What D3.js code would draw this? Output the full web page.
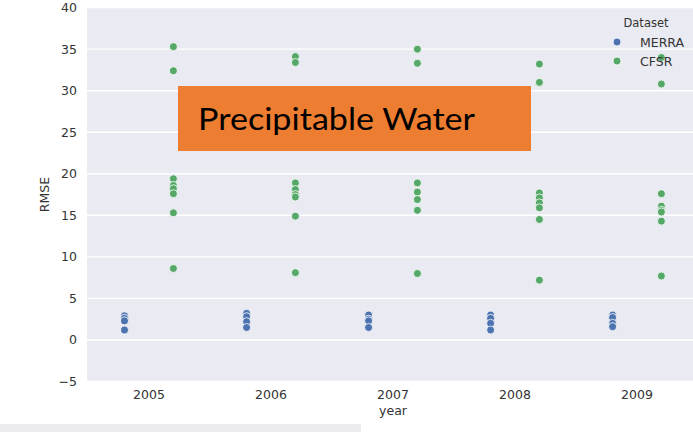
<!DOCTYPE html>
<html>
<head>
<meta charset="utf-8">
<script src="https://cdn.jsdelivr.net/npm/d3@7"></script>
<style>
  html, body { margin: 0; padding: 0; background: #ffffff; }
  svg { display: block; }
</style>
</head>
<body>
<script>
// ---- data ----
const years = ["2005", "2006", "2007", "2008", "2009"];
const seriesNames = ["MERRA", "CFSR"];
const merraValues = [
  [2.9, 2.6, 2.3, 1.2],
  [3.2, 2.8, 2.2, 1.5],
  [3.0, 2.5, 2.3, 1.5],
  [3.0, 2.6, 2.0, 1.2],
  [3.0, 2.7, 2.0, 1.6]
];
const cfsrValues = [
  [35.3, 32.4, 19.4, 18.6, 18.2, 17.6, 15.3, 8.6],
  [34.1, 33.4, 18.9, 18.1, 17.5, 17.2, 14.9, 8.1],
  [35.0, 33.3, 18.9, 17.8, 16.9, 15.6, 8.0],
  [33.2, 31.0, 17.7, 17.1, 16.5, 15.9, 14.5, 7.2],
  [34.0, 30.8, 17.6, 16.1, 15.6, 15.4, 14.3, 7.7]
];
const yTicks = [-5, 0, 5, 10, 15, 20, 25, 30, 35, 40];
const titleText = "Precipitable Water";

// ---- layout ----
const W = 693, H = 432;
const plot = { left: 88, right: 698, top: 7.6, bottom: 381.5 };
const colors = { MERRA: "#4c72b0", CFSR: "#55a868" };

const svg = d3.select("body").append("svg").attr("width", W).attr("height", H);

const x = d3.scaleBand().domain(years).range([plot.left, plot.right]).padding(0);
const y = d3.scaleLinear().domain([-5, 40]).range([plot.bottom, plot.top]);
const dodge = d3.scaleOrdinal().domain(seriesNames).range([-0.2, 0.2]);

// background
svg.append("rect")
  .attr("x", plot.left - 1).attr("y", plot.top)
  .attr("width", plot.right - plot.left + 1).attr("height", plot.bottom - plot.top)
  .attr("fill", "#eaeaf2");

// grid
svg.append("g").selectAll("line").data(yTicks).join("line")
  .attr("x1", plot.left - 1).attr("x2", plot.right)
  .attr("y1", d => y(d)).attr("y2", d => y(d))
  .attr("stroke", "#ffffff").attr("stroke-width", 1.4);

// axes
const font = "'DejaVu Sans', sans-serif";
const yAxis = svg.append("g")
  .attr("transform", `translate(${plot.left - 1},0)`)
  .call(d3.axisLeft(y).tickValues(yTicks).tickSize(0).tickPadding(10)
    .tickFormat(d => d < 0 ? "\u2212" + Math.abs(d) : d));
yAxis.select(".domain").remove();
yAxis.selectAll("text").attr("font-family", font).attr("font-size", 12.5).attr("fill", "#333");

const xAxis = svg.append("g")
  .attr("transform", `translate(0,${plot.bottom})`)
  .call(d3.axisBottom(x).tickSize(0).tickPadding(9));
xAxis.select(".domain").remove();
xAxis.selectAll("text").attr("font-family", font).attr("font-size", 12.5).attr("fill", "#333");

// axis labels
svg.append("text")
  .attr("transform", `translate(49,${(plot.top + plot.bottom) / 2}) rotate(-90)`)
  .attr("text-anchor", "middle").attr("font-family", font).attr("font-size", 12.5)
  .attr("fill", "#333").text("RMSE");
svg.append("text")
  .attr("x", (plot.left + plot.right) / 2).attr("y", 415)
  .attr("text-anchor", "middle").attr("font-family", font).attr("font-size", 12.5)
  .attr("fill", "#333").text("year");

// points
const pts = [];
years.forEach((yr, i) => {
  merraValues[i].forEach(v => pts.push({ year: yr, series: "MERRA", value: v }));
});
years.forEach((yr, i) => {
  cfsrValues[i].forEach(v => pts.push({ year: yr, series: "CFSR", value: v }));
});
svg.append("g").selectAll("circle").data(pts).join("circle")
  .attr("cx", d => x(d.year) + x.bandwidth() / 2 + dodge(d.series) * x.bandwidth())
  .attr("cy", d => y(d.value))
  .attr("r", 4)
  .attr("fill", d => colors[d.series])
  .attr("stroke", "#ffffff").attr("stroke-width", 0.8);

// legend
const lg = svg.append("g");
lg.append("text").attr("x", 646).attr("y", 27).attr("text-anchor", "middle")
  .attr("font-family", font).attr("font-size", 11.5).attr("fill", "#333").text("Dataset");
seriesNames.forEach((s, i) => {
  const cy = 42 + i * 19;
  lg.append("circle").attr("cx", 617).attr("cy", cy).attr("r", 4)
    .attr("fill", colors[s]).attr("stroke", "#ffffff").attr("stroke-width", 0.8);
  lg.append("text").attr("x", 640).attr("y", cy + 4.5)
    .attr("font-family", font).attr("font-size", 12.5).attr("fill", "#333").text(s);
});

// title box overlay
svg.append("rect").attr("x", 178).attr("y", 86).attr("width", 353).attr("height", 65)
  .attr("fill", "#ed7d31");
svg.append("text").attr("x", 198).attr("y", 129.5)
  .attr("font-family", "Lato, 'Open Sans', sans-serif").attr("font-size", 30)
  .attr("textLength", 277).attr("lengthAdjust", "spacingAndGlyphs")
  .attr("fill", "#000").text(titleText);

// bottom strip
svg.append("rect").attr("x", 0).attr("y", 424).attr("width", 361).attr("height", 8)
  .attr("fill", "#ebebf0");
</script>
</body>
</html>
